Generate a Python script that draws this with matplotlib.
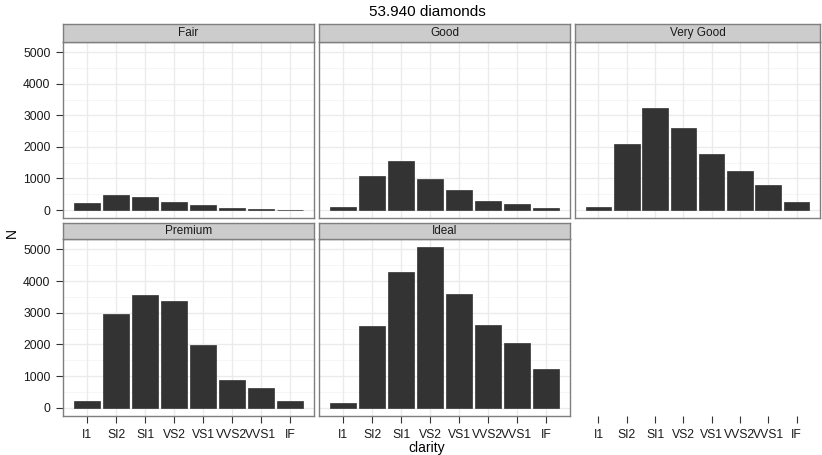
import matplotlib
matplotlib.use("Agg")
import matplotlib.pyplot as plt
import numpy as np

plt.rcParams["font.family"] = ["Liberation Sans", "DejaVu Sans"]

clarity = ["I1", "SI2", "SI1", "VS2", "VS1", "VVS2", "VVS1", "IF"]
cuts = ["Fair", "Good", "Very Good", "Premium", "Ideal"]
fair = [210, 466, 408, 261, 170, 69, 17, 9]
good = [96, 1081, 1560, 978, 648, 286, 186, 71]
very_good = [84, 2100, 3240, 2591, 1775, 1235, 789, 268]
premium = [205, 2949, 3575, 3357, 1989, 870, 616, 230]
ideal = [146, 2598, 4282, 5071, 3589, 2606, 2047, 1212]
counts = [fair, good, very_good, premium, ideal]
yticks = [0, 1000, 2000, 3000, 4000, 5000]

W, H = 822, 455
fig = plt.figure(figsize=(W / 100, H / 100), dpi=100)

cols = [(63, 314), (319, 570), (575, 820)]
rows = [(24, 42, 218), (223, 239, 416)]  # strip top, strip bottom / panel top, panel bottom

def px(x0, y0, x1, y1):
    return [x0 / W, 1 - y1 / H, (x1 - x0) / W, (y1 - y0) / H]

x = np.arange(1, len(clarity) + 1)
xlim = (0.17, len(clarity) + 0.83)
ymax = max(max(c) for c in counts)
ylim = (-0.05 * ymax, 1.05 * ymax)
tick_kw = dict(length=5, color="#333333", labelsize=8.7, labelcolor="#1A1A1A", pad=4)

for i, (name, vals) in enumerate(zip(cuts, counts)):
    r, c = divmod(i, 3)
    x0, x1 = cols[c]
    st, pt, pb = rows[r]
    ax = fig.add_axes(px(x0, pt, x1, pb))
    ax.set_xlim(*xlim)
    ax.set_ylim(*ylim)
    for yv in np.arange(500, 5500, 1000):
        ax.axhline(yv, color="#F5F5F5", lw=0.6, zorder=0)
    ax.set_yticks(yticks)
    ax.set_xticks(x)
    ax.grid(True, color="#EBEBEB", lw=1.0, zorder=0)
    ax.set_axisbelow(True)
    ax.bar(x, vals, width=0.9, color="#333333", edgecolor="#333333", linewidth=0.5, zorder=2)
    for s in ax.spines.values():
        s.set_edgecolor("#7F7F7F")
        s.set_linewidth(1.0)
    ax.tick_params(**tick_kw)
    if c == 0:
        ax.set_yticklabels([str(t) for t in yticks])
    else:
        ax.tick_params(axis="y", length=0, labelleft=False)
    if r == 1:
        ax.set_xticklabels(clarity)
    else:
        ax.tick_params(axis="x", length=0, labelbottom=False)
    # strip
    sax = fig.add_axes(px(x0, st, x1, pt))
    sax.set_xticks([])
    sax.set_yticks([])
    sax.set_facecolor("#CCCCCC")
    for s in sax.spines.values():
        s.set_edgecolor("#7F7F7F")
        s.set_linewidth(1.0)
    sax.text(0.5, 0.5, name, ha="center", va="center", fontsize=8.5, color="#1A1A1A",
             transform=sax.transAxes)

# empty slot: only the x axis of the bottom row
x0, x1 = cols[2]
st, pt, pb = rows[1]
eax = fig.add_axes(px(x0, pt, x1, pb))
eax.set_xlim(*xlim)
eax.set_xticks(x)
eax.set_xticklabels(clarity)
eax.set_yticks([])
eax.patch.set_visible(False)
for s in eax.spines.values():
    s.set_visible(False)
eax.tick_params(**tick_kw)

fig.text(427 / W, 1 - 448 / H, "clarity", ha="center", va="center", fontsize=10)
fig.text(12 / W, 1 - 233 / H, "N", ha="center", va="center", rotation=90, fontsize=10)
fig.text(427 / W, 1 - 12 / H, "53.940 diamonds", ha="center", va="center", fontsize=11)

fig.savefig("out.png", dpi=100)
